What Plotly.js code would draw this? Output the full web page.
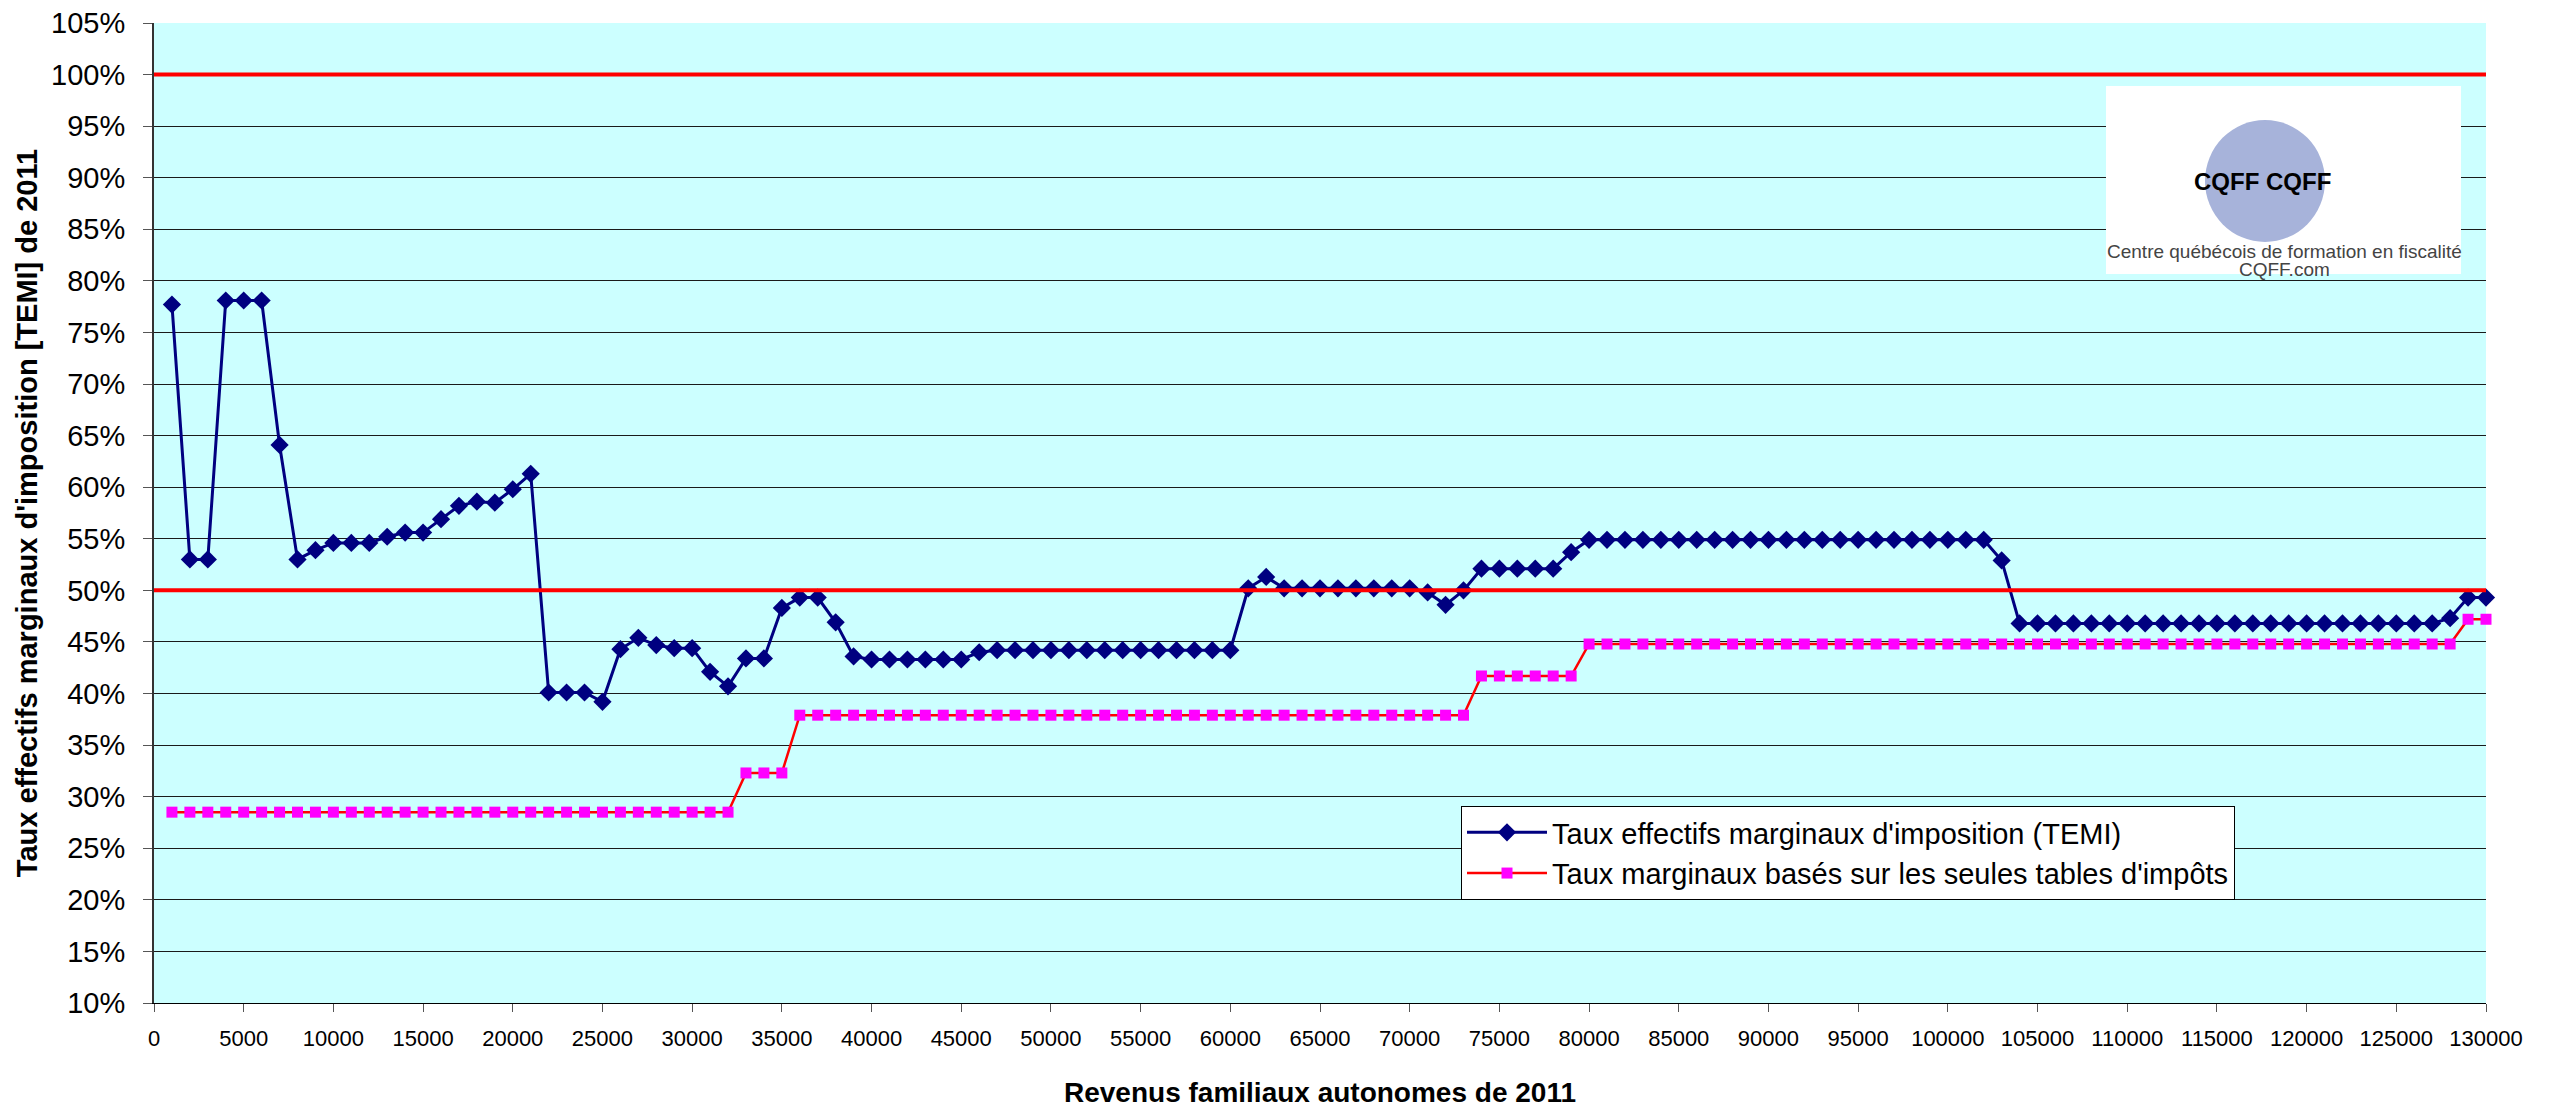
<!DOCTYPE html>
<html>
<head>
<meta charset="utf-8">
<script src="https://cdn.plot.ly/plotly-3.0.1.min.js"></script>
<style>
  html, body { margin: 0; padding: 0; background: #ffffff; }
  #chart { width: 2554px; height: 1114px; }
</style>
</head>
<body>
<div id="chart"></div>
<script>
// Revenus familiaux autonomes (x), en dollars
const revenus = [
  1000, 2000, 3000, 4000, 5000, 6000, 7000, 8000, 9000, 10000,
  11000, 12000, 13000, 14000, 15000, 16000, 17000, 18000, 19000, 20000,
  21000, 22000, 23000, 24000, 25000, 26000, 27000, 28000, 29000, 30000,
  31000, 32000, 33000, 34000, 35000, 36000, 37000, 38000, 39000, 40000,
  41000, 42000, 43000, 44000, 45000, 46000, 47000, 48000, 49000, 50000,
  51000, 52000, 53000, 54000, 55000, 56000, 57000, 58000, 59000, 60000,
  61000, 62000, 63000, 64000, 65000, 66000, 67000, 68000, 69000, 70000,
  71000, 72000, 73000, 74000, 75000, 76000, 77000, 78000, 79000, 80000,
  81000, 82000, 83000, 84000, 85000, 86000, 87000, 88000, 89000, 90000,
  91000, 92000, 93000, 94000, 95000, 96000, 97000, 98000, 99000, 100000,
  101000, 102000, 103000, 104000, 105000, 106000, 107000, 108000, 109000, 110000,
  111000, 112000, 113000, 114000, 115000, 116000, 117000, 118000, 119000, 120000,
  121000, 122000, 123000, 124000, 125000, 126000, 127000, 128000, 129000, 130000
];

// Taux effectifs marginaux d'imposition (TEMI), en %
const temi = [
  77.7, 53.0, 53.0, 78.1, 78.1, 78.1, 64.1, 53.0, 53.9, 54.6,
  54.6, 54.6, 55.2, 55.6, 55.6, 56.9, 58.2, 58.6, 58.5, 59.8,
  61.3, 40.1, 40.1, 40.1, 39.2, 44.3, 45.4, 44.7, 44.4, 44.4,
  42.1, 40.7, 43.4, 43.4, 48.3, 49.3, 49.3, 46.9, 43.6, 43.3,
  43.3, 43.3, 43.3, 43.3, 43.3, 44.0, 44.2, 44.2, 44.2, 44.2,
  44.2, 44.2, 44.2, 44.2, 44.2, 44.2, 44.2, 44.2, 44.2, 44.2,
  50.2, 51.3, 50.2, 50.2, 50.2, 50.2, 50.2, 50.2, 50.2, 50.2,
  49.8, 48.6, 50.0, 52.1, 52.1, 52.1, 52.1, 52.1, 53.7, 54.9,
  54.9, 54.9, 54.9, 54.9, 54.9, 54.9, 54.9, 54.9, 54.9, 54.9,
  54.9, 54.9, 54.9, 54.9, 54.9, 54.9, 54.9, 54.9, 54.9, 54.9,
  54.9, 54.9, 52.9, 46.8, 46.8, 46.8, 46.8, 46.8, 46.8, 46.8,
  46.8, 46.8, 46.8, 46.8, 46.8, 46.8, 46.8, 46.8, 46.8, 46.8,
  46.8, 46.8, 46.8, 46.8, 46.8, 46.8, 46.8, 47.3, 49.3, 49.3
];

// Taux marginaux basés sur les seules tables d'impôts, en %
const tables = [
  28.5, 28.5, 28.5, 28.5, 28.5, 28.5, 28.5, 28.5, 28.5, 28.5,
  28.5, 28.5, 28.5, 28.5, 28.5, 28.5, 28.5, 28.5, 28.5, 28.5,
  28.5, 28.5, 28.5, 28.5, 28.5, 28.5, 28.5, 28.5, 28.5, 28.5,
  28.5, 28.5, 32.3, 32.3, 32.3, 37.9, 37.9, 37.9, 37.9, 37.9,
  37.9, 37.9, 37.9, 37.9, 37.9, 37.9, 37.9, 37.9, 37.9, 37.9,
  37.9, 37.9, 37.9, 37.9, 37.9, 37.9, 37.9, 37.9, 37.9, 37.9,
  37.9, 37.9, 37.9, 37.9, 37.9, 37.9, 37.9, 37.9, 37.9, 37.9,
  37.9, 37.9, 37.9, 41.7, 41.7, 41.7, 41.7, 41.7, 41.7, 44.8,
  44.8, 44.8, 44.8, 44.8, 44.8, 44.8, 44.8, 44.8, 44.8, 44.8,
  44.8, 44.8, 44.8, 44.8, 44.8, 44.8, 44.8, 44.8, 44.8, 44.8,
  44.8, 44.8, 44.8, 44.8, 44.8, 44.8, 44.8, 44.8, 44.8, 44.8,
  44.8, 44.8, 44.8, 44.8, 44.8, 44.8, 44.8, 44.8, 44.8, 44.8,
  44.8, 44.8, 44.8, 44.8, 44.8, 44.8, 44.8, 44.8, 47.2, 47.2
];

// Lignes de référence (100 % et 50 %)
const refX = [0, 130000];
const ref100 = [100, 100];
const ref50 = [50, 50];

const legendNames = [
  "Taux effectifs marginaux d'imposition (TEMI)",
  "Taux marginaux basés sur les seules tables d'impôts"
];

const FONT = '"Liberation Sans", Arial, sans-serif';

const traces = [
  {
    x: revenus, y: temi, type: 'scatter', mode: 'lines+markers',
    name: legendNames[0],
    line: { color: '#000080', width: 3 },
    marker: { symbol: 'diamond', size: 14, color: '#000080' },
    cliponaxis: false
  },
  {
    x: revenus, y: tables, type: 'scatter', mode: 'lines+markers',
    name: legendNames[1],
    line: { color: '#FF0000', width: 2.5 },
    marker: { symbol: 'square', size: 11, color: '#FF00FF' },
    cliponaxis: false
  },
  {
    x: refX, y: ref100, type: 'scatter', mode: 'lines',
    line: { color: '#FF0000', width: 4 }, showlegend: false, hoverinfo: 'skip'
  },
  {
    x: refX, y: ref50, type: 'scatter', mode: 'lines',
    line: { color: '#FF0000', width: 4 }, showlegend: false, hoverinfo: 'skip'
  }
];

// pixel -> paper helpers for the logo block (plot area 154..2486 x 23..1003)
const L = 154, R = 2486, T = 23, B = 1003;
const px = v => (v - L) / (R - L);
const py = v => (B - v) / (B - T);

const layout = {
  width: 2554, height: 1114,
  margin: { l: 154, r: 68, t: 23, b: 111 },
  paper_bgcolor: '#ffffff',
  plot_bgcolor: '#CCFFFF',
  font: { family: FONT, color: '#000000' },
  showlegend: true,
  xaxis: {
    range: [0, 130000], dtick: 5000, tick0: 0,
    tickformat: 'd',
    showgrid: false, zeroline: false,
    showline: true, linecolor: '#000000', linewidth: 1,
    ticks: 'outside', ticklen: 8, tickcolor: '#555555', tickwidth: 1,
    tickfont: { size: 22, family: FONT, color: '#000000' },
    ticklabelstandoff: 8,
    title: { text: 'Revenus familiaux autonomes de 2011', font: { size: 28, family: FONT, color: '#000000', weight: 'bold' }, standoff: 31 },
    automargin: false
  },
  yaxis: {
    range: [10, 105], dtick: 5, tick0: 10,
    ticksuffix: '%',
    showgrid: true, gridcolor: '#1a1a1a', gridwidth: 1,
    zeroline: false,
    showline: true, linecolor: '#333333', linewidth: 2,
    ticks: 'outside', ticklen: 9, tickcolor: '#555555', tickwidth: 1,
    tickfont: { size: 29, family: FONT, color: '#000000' },
    ticklabelstandoff: 12,
    title: { text: "Taux effectifs marginaux d'imposition [TEMI] de 2011", font: { size: 29, family: FONT, color: '#000000', weight: 'bold' }, standoff: 5 },
    automargin: false
  },
  legend: {
    x: px(1461), y: py(806), xanchor: 'left', yanchor: 'top',
    bgcolor: '#ffffff', bordercolor: '#000000', borderwidth: 1,
    font: { size: 29, family: FONT, color: '#000000' },
    itemwidth: 80, traceorder: 'normal'
  },
  shapes: [
    { type: 'rect', xref: 'paper', yref: 'paper', x0: px(2106), x1: px(2461), y0: py(274), y1: py(86),
      fillcolor: '#ffffff', line: { width: 0 }, layer: 'above' },
    { type: 'circle', xref: 'paper', yref: 'paper', x0: px(2205), x1: px(2325), y0: py(242), y1: py(120),
      fillcolor: '#A7B3DA', line: { width: 0 }, layer: 'above' }
  ],
  annotations: [
    { xref: 'paper', yref: 'paper', x: px(2262), y: py(182), text: 'CQFF CQFF', showarrow: false,
      font: { size: 24, family: FONT, color: '#000000', weight: 'bold' }, xanchor: 'center', yanchor: 'middle' },
    { xref: 'paper', yref: 'paper', x: px(2284), y: py(251), text: 'Centre québécois de formation en fiscalité', showarrow: false,
      font: { size: 19, family: FONT, color: '#444444' }, xanchor: 'center', yanchor: 'middle' },
    { xref: 'paper', yref: 'paper', x: px(2284), y: py(269), text: 'CQFF.com', showarrow: false,
      font: { size: 19, family: FONT, color: '#444444' }, xanchor: 'center', yanchor: 'middle' }
  ]
};

Plotly.newPlot('chart', traces, layout, { displayModeBar: false, staticPlot: true });
</script>
</body>
</html>
